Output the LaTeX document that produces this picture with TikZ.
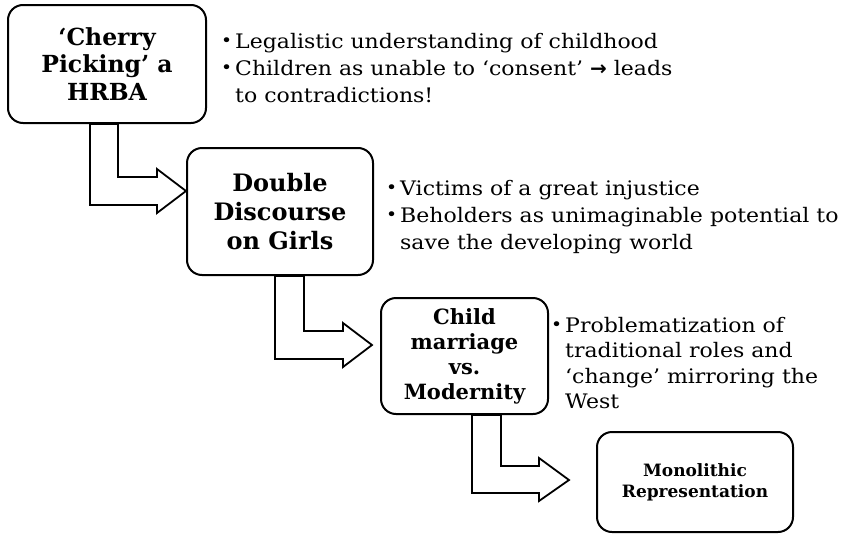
\documentclass[tikz,border=0pt]{standalone}
\usepackage{fontspec}
\setmainfont{DejaVu Serif}
\newfontfamily\listfont[FakeStretch=1.1]{DejaVu Serif}
\newfontfamily\arrowfont{DejaVu Sans}
\begin{document}
\begin{tikzpicture}[x=1pt,y=-1pt,
  box/.style={draw=black,line width=2pt,rounded corners=15pt,fill=white,align=center,inner sep=0pt,font=\bfseries},
  barrow/.style={draw=black,line width=1.8pt,fill=white,line join=miter},
  list/.style={anchor=base west,inner sep=0pt,font=\listfont\fontsize{20}{27}\selectfont}]
\useasboundingbox (0,0) rectangle (848,533);
\newcommand{\bul}{\makebox[14pt][l]{\raisebox{0.1em}{\scalebox{0.85}{•}}}}
\newcommand{\nob}{\hspace*{14pt}}
% boxes
\node[box,minimum width=198pt,minimum height=118pt,font=\bfseries\fontsize{23.5}{27.5}\selectfont] (b1) at (107,64) {‘Cherry\\Picking’ a\\HRBA};
\node[box,minimum width=186pt,minimum height=127pt,font=\bfseries\fontsize{24}{29}\selectfont] (b2) at (280,211.5) {Double\\Discourse\\on Girls};
\node[box,minimum width=167pt,minimum height=116pt,font=\bfseries\fontsize{21}{25}\selectfont] (b3) at (464.5,356) {Child\\marriage\\vs.\\Modernity};
\node[box,minimum width=196pt,minimum height=100pt,font=\bfseries\fontsize{17}{21}\selectfont] (b4) at (695,482) {Monolithic\\Representation};
% bent block arrows
\draw[barrow] (b1.south -| 90,0) -- (90,205) -- (157,205) -- (157,213) -- ([yshift=20.5pt]b2.west) -- (157,169) -- (157,177) -- (118,177) -- (b1.south -| 118,0) -- cycle;
\draw[barrow] (b2.south -| 275,0) -- (275,359) -- (343,359) -- (343,367) -- ([xshift=-8pt,yshift=11pt]b3.west) -- (343,323) -- (343,331) -- (304,331) -- (b2.south -| 304,0) -- cycle;
\draw[barrow] (b3.south -| 472,0) -- (472,493) -- (539,493) -- (539,501) -- ([xshift=-27pt,yshift=2pt]b4.west) -- (539,458) -- (539,466) -- (501,466) -- (b3.south -| 501,0) -- cycle;
% bullet lists
\node[list] (t1) at (221,48) {\begin{tabular}[t]{@{}l@{}}
\bul Legalistic understanding of childhood\\
\bul Children as unable to ‘consent’ {\arrowfont\bfseries →} leads\\
\nob to contradictions!\end{tabular}};
\node[list] (t2) at (386,195) {\begin{tabular}[t]{@{}l@{}}
\bul Victims of a great injustice\\
\bul Beholders as unimaginable potential to\\
\nob save the developing world\end{tabular}};
\node[list,font=\listfont\fontsize{20}{25.5}\selectfont] (t3) at (551,332) {\begin{tabular}[t]{@{}l@{}}
\bul Problematization of\\
\nob traditional roles and\\
\nob ‘change’ mirroring the\\
\nob West\end{tabular}};
\end{tikzpicture}
\end{document}
